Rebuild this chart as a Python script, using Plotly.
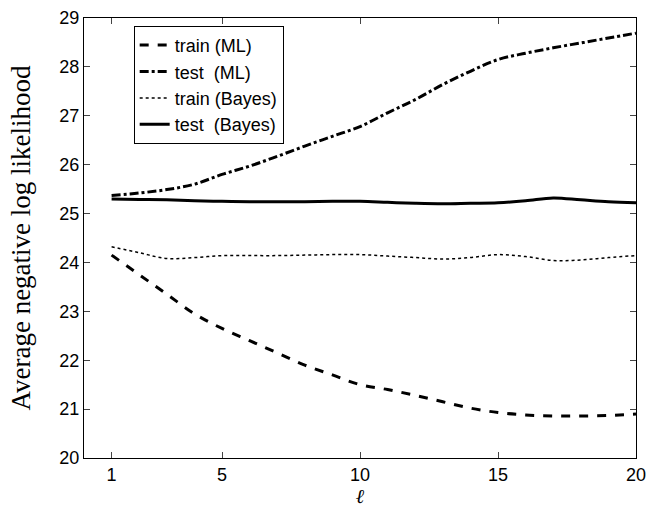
import plotly.graph_objects as go

ell = list(range(1, 21))
train_ml = [24.15, 23.75, 23.35, 22.95, 22.65, 22.4, 22.15, 21.9, 21.7, 21.5,
            21.4, 21.28, 21.15, 21.02, 20.93, 20.88, 20.86, 20.86, 20.87, 20.9]
test_ml = [25.37, 25.42, 25.49, 25.6, 25.8, 25.97, 26.17, 26.38, 26.58, 26.78,
           27.06, 27.33, 27.64, 27.91, 28.15, 28.28, 28.39, 28.49, 28.59, 28.69]
train_bayes = [24.32, 24.2, 24.08, 24.1, 24.14, 24.14, 24.14, 24.15, 24.16, 24.16,
               24.13, 24.1, 24.07, 24.1, 24.16, 24.12, 24.04, 24.05, 24.1, 24.14]
test_bayes = [25.3, 25.29, 25.28, 25.26, 25.25, 25.24, 25.24, 25.24, 25.25, 25.25,
              25.23, 25.21, 25.2, 25.21, 25.22, 25.26, 25.32, 25.28, 25.24, 25.22]

names = ["train (ML)", "test  (ML)", "train (Bayes)", "test  (Bayes)"]
series = [train_ml, test_ml, train_bayes, test_bayes]
styles = [("dash", 3), ("dashdot", 3), ("dot", 1.5), ("solid", 3)]

fig = go.Figure()
for nm, ys, (dash, w) in zip(names, series, styles):
    fig.add_trace(go.Scatter(x=ell, y=ys, mode="lines", name=nm,
                             line=dict(color="black", dash=dash, width=w, shape="spline")))

fig.update_layout(
    width=649, height=508,
    margin=dict(l=84, r=13, t=18, b=50),
    paper_bgcolor="white", plot_bgcolor="white",
    font=dict(family="Liberation Sans, Arial", size=18, color="black"),
    showlegend=True,
    legend=dict(x=0.09, y=0.982, xanchor="left", yanchor="top",
                bordercolor="black", borderwidth=1, bgcolor="white",
                font=dict(size=18), tracegroupgap=0, itemwidth=30),
)
fig.update_xaxes(range=[0, 20], tickvals=[1, 5, 10, 15, 20], ticks="inside", ticklen=6,
                 showline=True, linecolor="black", linewidth=1, mirror="ticks",
                 showgrid=False, zeroline=False, automargin=False, ticklabeloverflow="allow",
                 title=dict(text="<i>ℓ</i>", font=dict(family="DejaVu Serif", size=20), standoff=14))
fig.update_yaxes(range=[20, 29], dtick=1, ticks="inside", ticklen=6,
                 showline=True, linecolor="black", linewidth=1, mirror="ticks",
                 showgrid=False, zeroline=False, automargin=False,
                 title=dict(text="Average negative log likelihood",
                            font=dict(family="Liberation Serif, DejaVu Serif", size=27), standoff=20))

# remove the default page margin so the figure fills the 649x508 window exactly
fig.write_html("out.html", config={"displayModeBar": False},
               post_script="document.body.style.margin='0';document.body.style.overflow='hidden';")
